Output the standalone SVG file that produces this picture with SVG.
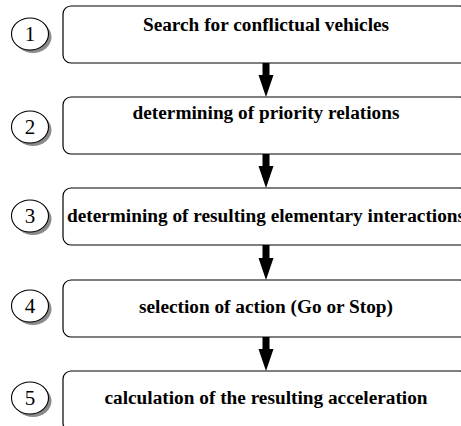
<svg xmlns="http://www.w3.org/2000/svg" width="461" height="426" viewBox="0 0 461 426">
<style>
.box{fill:#fff;stroke:#000;stroke-width:1.2}
.lbl{font-family:"Liberation Serif","Times New Roman",serif;font-weight:bold;font-size:19.3px;fill:#000;text-anchor:middle}
.num{font-family:"Liberation Serif","Times New Roman",serif;font-size:21px;fill:#000;text-anchor:middle}
.circ{fill:#fff;stroke:#000;stroke-width:1.1}
.shd{fill:#8a8a8a}
.arr{fill:#000}
</style>
<rect width="461" height="426" fill="#fff"/>
<g id="connectors">
<path class="arr" d="M262.5,63 h7 v12 h4 l-7.5,22 l-7.5,-22 h4 z"/>
<path class="arr" d="M262.5,154 h7 v12 h4 l-7.5,22 l-7.5,-22 h4 z"/>
<path class="arr" d="M262.5,245 h7 v13 h4 l-7.5,22 l-7.5,-22 h4 z"/>
<path class="arr" d="M262.5,337 h7 v12 h4 l-7.5,22 l-7.5,-22 h4 z"/>
</g>
<g id="step1">
<ellipse class="shd" cx="33" cy="37" rx="18.5" ry="16"/>
<ellipse class="circ" cx="30" cy="34" rx="18.5" ry="16"/>
<text class="num" x="30" y="41">1</text>
<rect class="box" x="63" y="6" width="405" height="57" rx="8"/>
<text class="lbl" x="266" y="31">Search for conflictual vehicles</text>
</g>
<g id="step2">
<ellipse class="shd" cx="33" cy="130" rx="18.5" ry="16"/>
<ellipse class="circ" cx="30" cy="127" rx="18.5" ry="16"/>
<text class="num" x="30" y="134">2</text>
<rect class="box" x="63" y="97" width="405" height="57" rx="8"/>
<text class="lbl" x="266" y="119">determining of priority relations</text>
</g>
<g id="step3">
<ellipse class="shd" cx="33" cy="219" rx="18.5" ry="16"/>
<ellipse class="circ" cx="30" cy="216" rx="18.5" ry="16"/>
<text class="num" x="30" y="223">3</text>
<rect class="box" x="63" y="188" width="405" height="57" rx="8"/>
<text class="lbl" x="266" y="222">determining of resulting elementary interactions</text>
</g>
<g id="step4">
<ellipse class="shd" cx="33" cy="309" rx="18.5" ry="16"/>
<ellipse class="circ" cx="30" cy="306" rx="18.5" ry="16"/>
<text class="num" x="30" y="313">4</text>
<rect class="box" x="63" y="280" width="405" height="57" rx="8"/>
<text class="lbl" x="266" y="313">selection of action (Go or Stop)</text>
</g>
<g id="step5">
<ellipse class="shd" cx="33" cy="401" rx="18.5" ry="16"/>
<ellipse class="circ" cx="30" cy="398" rx="18.5" ry="16"/>
<text class="num" x="30" y="405">5</text>
<rect class="box" x="63" y="371" width="405" height="60" rx="8"/>
<text class="lbl" x="266" y="404">calculation of the resulting acceleration</text>
</g>
</svg>
